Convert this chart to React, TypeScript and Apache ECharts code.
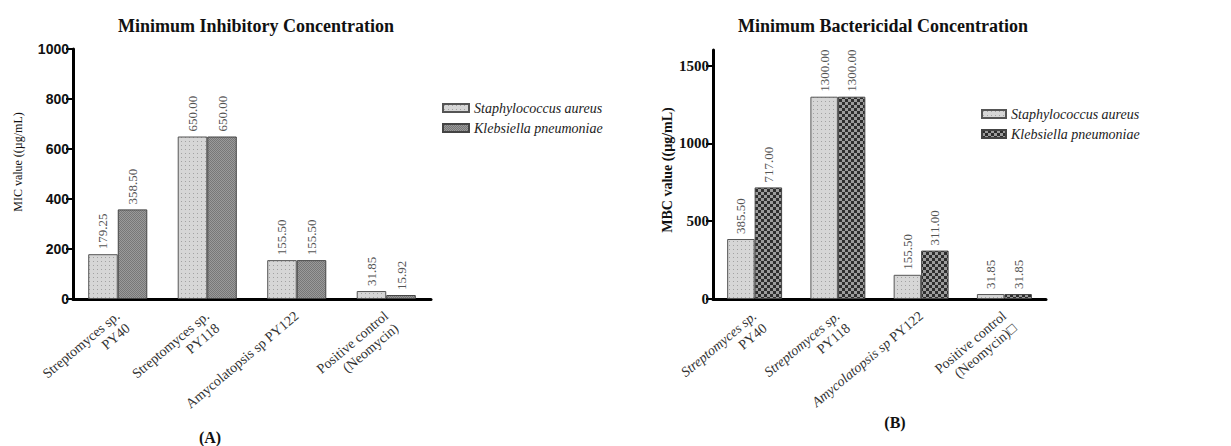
import React, { useEffect, useRef } from "react";
import * as echarts from "echarts";

const categoriesA = ["Streptomyces sp.\nPY40", "Streptomyces sp.\nPY118", "Amycolatopsis sp PY122", "Positive control\n(Neomycin)"];
const categoriesB = ["Streptomyces sp.\nPY40", "Streptomyces sp.\nPY118", "Amycolatopsis sp PY122", "Positive control\n(Neomycin)\u25A1"];
const seriesNames = ["Staphylococcus aureus", "Klebsiella pneumoniae"];
const micStaph = [179.25, 650.0, 155.5, 31.85];
const micKleb = [358.5, 650.0, 155.5, 15.92];
const mbcStaph = [385.5, 1300.0, 155.5, 31.85];
const mbcKleb = [717.0, 1300.0, 311.0, 31.85];
const micTicks = [0, 200, 400, 600, 800, 1000];
const mbcTicks = [0, 500, 1000, 1500];

const SERIF = "Liberation Serif";
const SANS = "Liberation Sans";

function makePattern(kind: string) {
  const c = document.createElement("canvas");
  let size = 4;
  if (kind === "dots") size = 4;
  if (kind === "fine") size = 2;
  if (kind === "checker") size = 6;
  c.width = size;
  c.height = size;
  const ctx = c.getContext("2d")!;
  if (kind === "dots") {
    ctx.fillStyle = "#d6d6d6";
    ctx.fillRect(0, 0, size, size);
    ctx.fillStyle = "#a2a2a2";
    ctx.fillRect(1, 1, 1, 1);
  } else if (kind === "fine") {
    ctx.fillStyle = "#9a9a9a";
    ctx.fillRect(0, 0, 2, 2);
    ctx.fillStyle = "#777777";
    ctx.fillRect(0, 0, 1, 1);
    ctx.fillRect(1, 1, 1, 1);
  } else {
    ctx.fillStyle = "#9c9c9c";
    ctx.fillRect(0, 0, 6, 6);
    ctx.fillStyle = "#2e2e2e";
    ctx.fillRect(0, 0, 3, 3);
    ctx.fillRect(3, 3, 3, 3);
  }
  return { image: c, repeat: "repeat", imageWidth: size, imageHeight: size } as any;
}

function buildOption(side: "A" | "B") {
  const isA = side === "A";
  const cats = isA ? categoriesA : categoriesB;
  const d1 = isA ? micStaph : mbcStaph;
  const d2 = isA ? micKleb : mbcKleb;
  const ticks = isA ? micTicks : mbcTicks;
  const p1 = makePattern("dots");
  const p2 = makePattern(isA ? "fine" : "checker");
  const barLabel = {
    show: true,
    position: "top",
    rotate: 90,
    align: "left",
    verticalAlign: "middle",
    distance: 5,
    fontFamily: SERIF,
    fontSize: 13,
    color: "#555",
    formatter: (p: any) => Number(p.value).toFixed(2),
  };
  const gridLeft = isA ? 73 : 93;
  const gridWidth = isA ? 358 : 333;
  const legendLeft = isA ? 437 : 356;
  const legendTop = isA ? 96 : 102;
  return {
    animation: false,
    title: {
      text: isA ? "Minimum Inhibitory Concentration" : "Minimum Bactericidal Concentration",
      left: isA ? 251 : 258,
      top: 12,
      textAlign: "center",
      textStyle: { fontFamily: SERIF, fontWeight: "bold", fontSize: 18, color: "#111" },
    },
    legend: {
      orient: "vertical",
      left: legendLeft,
      top: legendTop,
      icon: "rect",
      itemWidth: isA ? 26 : 24,
      itemHeight: 8,
      itemGap: 6,
      data: seriesNames,
      textStyle: { fontFamily: SERIF, fontStyle: "italic", fontSize: 14, color: "#222" },
    },
    grid: { left: gridLeft, top: isA ? 49 : 50, width: gridWidth, height: isA ? 250 : 249 },
    xAxis: {
      type: "category",
      data: cats,
      axisLine: { lineStyle: { color: "#000", width: 3 } },
      axisTick: { show: false },
      axisLabel: {
        rotate: 40,
        interval: 0,
        margin: 15,
        fontFamily: SERIF,
        fontSize: 14,
        color: "#333",
        lineHeight: 16,
        formatter: (v: string) => {
          let s = v;
          if (!isA) {
            s = s
              .replace("Streptomyces sp.", "{i|Streptomyces sp.}")
              .replace("Amycolatopsis sp", "{i|Amycolatopsis sp}");
          }
          // keep the first line on the anchor: pad multi-line labels with an empty leading line
          return s.indexOf("\n") >= 0 ? "\u00a0\n" + s : s;
        },
        rich: { i: { fontFamily: SERIF, fontStyle: "italic", fontSize: 14, color: "#333", lineHeight: 16 } },
      },
    },
    yAxis: {
      type: "value",
      min: 0,
      max: isA ? 1000 : 1600,
      interval: isA ? 200 : 500,
      splitLine: { show: false },
      axisLine: { show: true, lineStyle: { color: "#000", width: 3 } },
      axisTick: { show: true, length: 7, lineStyle: { color: "#000", width: 2 }, customValues: ticks },
      axisLabel: {
        customValues: ticks,
        margin: 4,
        formatter: (v: number) => String(v),
        fontFamily: isA ? SANS : SERIF,
        fontWeight: "bold",
        fontSize: isA ? 14 : 15,
        color: "#111",
      },
    },
    graphic: [
      {
        type: "text",
        x: isA ? 18 : 47,
        y: isA ? 162 : 170,
        rotation: Math.PI / 2,
        style: {
          text: isA ? "MIC value ((\u00b5g/mL)" : "MBC value ((\u00b5g/mL)",
          fontFamily: SERIF,
          fontSize: isA ? 12 : 14,
          fontWeight: isA ? "normal" : "bold",
          fill: "#111",
          textAlign: "center",
          textVerticalAlign: "middle",
        },
      },
      {
        type: "text",
        x: isA ? 210 : 275,
        y: isA ? 437 : 422,
        style: {
          text: isA ? "(A)" : "(B)",
          fontFamily: SERIF,
          fontSize: 16,
          fontWeight: "bold",
          fill: "#111",
          textAlign: "center",
          textVerticalAlign: "middle",
        },
      },
    ],
    series: [
      {
        name: seriesNames[0],
        type: "bar",
        data: d1,
        barGap: "0%",
        barCategoryGap: "34%",
        itemStyle: { color: p1, borderColor: "#555", borderWidth: 1 },
        label: barLabel,
      },
      {
        name: seriesNames[1],
        type: "bar",
        data: d2,
        barGap: "0%",
        barCategoryGap: "34%",
        itemStyle: { color: p2, borderColor: "#444", borderWidth: 1 },
        label: barLabel,
      },
    ],
  };
}

function Chart({ side, width }: { side: "A" | "B"; width: number }) {
  const ref = useRef<HTMLDivElement>(null);
  useEffect(() => {
    if (!ref.current) return;
    const chart = echarts.init(ref.current, undefined, { renderer: "svg" });
    chart.setOption(buildOption(side) as any);
    return () => chart.dispose();
  }, [side]);
  return <div ref={ref} style={{ width, height: 446 }} />;
}

export default function App() {
  return (
    <div style={{ position: "absolute", left: 0, top: 0, width: 1231, height: 446, display: "flex", background: "#fff" }}>
      <Chart side="A" width={620} />
      <Chart side="B" width={611} />
    </div>
  );
}
